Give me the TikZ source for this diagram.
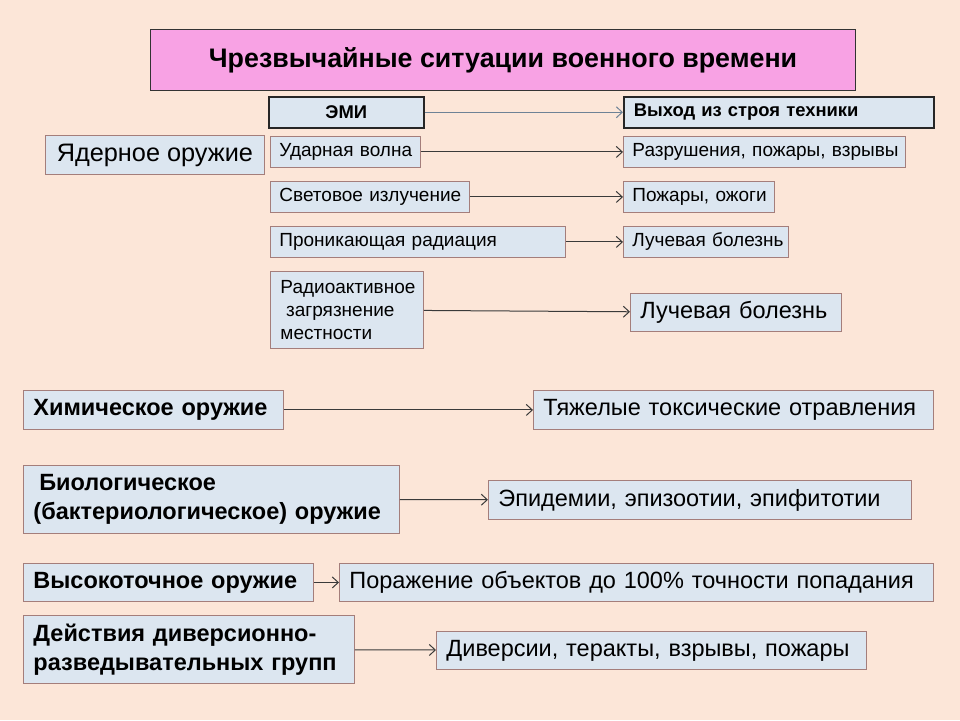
\documentclass[tikz,border=0pt]{standalone}
\usepackage{fontspec}
\setmainfont{Liberation Sans}
\newfontfamily\itemfamily[WordSpace=0.4]{Liberation Sans}
\usepackage{xcolor}
\usepackage{tikz}
\usetikzlibrary{arrows.meta,positioning}

\definecolor{bgpeach}{HTML}{FCE6D8}
\definecolor{boxfill}{HTML}{DCE6F0}
\definecolor{boxline}{HTML}{A47E7B}
\definecolor{headpink}{HTML}{F8A2E4}
\definecolor{arrowgray}{HTML}{3A3A3A}
\definecolor{emiblue}{HTML}{6E8296}

\newcommand{\fsTitle}{\fontsize{26.8}{31}\selectfont\bfseries}
\newcommand{\fsItem}{\itemfamily\fontsize{19}{23}\selectfont}
\newcommand{\fsKey}{\fontsize{18.4}{22}\selectfont\bfseries}
\newcommand{\fsLow}{\fontsize{23.5}{29}\selectfont}

\begin{document}
\begin{tikzpicture}[
        x=1pt, y=-1pt,
        box/.style={draw=boxline, fill=boxfill, line width=0.9pt, anchor=north west, inner xsep=9pt, inner ysep=0pt, align=left, font=\fsItem},
        keybox/.style={box, draw=black!85, line width=1.5pt, font=\fsKey},
        lowbox/.style={box, inner xsep=10pt, font=\fsLow},
        weapon/.style={lowbox, font=\fsLow\bfseries},
        arrow/.style={-{Straight Barb[length=6pt,width=11pt]}, draw=arrowgray, line width=1pt}
    ]
        \fill[bgpeach] (0,0) rectangle (960,720);
        \node[box, draw=black!80, fill=headpink, line width=1pt, align=center, minimum width=705pt, minimum height=61pt, font=\fsTitle] (title) at (150,29) {Чрезвычайные ситуации военного времени};

        % ядерное оружие
        \node[keybox, align=center, minimum width=155pt, minimum height=31pt] (emi) at (268,96) {ЭМИ};
        \node[keybox, inner xsep=10pt, text width=290pt, minimum height=31pt] (emiout) at (623,96) {Выход из строя техники};
        \node[box, align=center, minimum width=219pt, minimum height=39pt, font=\fontsize{25.3}{29}\selectfont] (nuclear) at (45,135) {Ядерное оружие};
        \node[box, text width=132pt, minimum height=31pt] (shock) at (270,136) {Ударная~волна};
        \node[box, text width=181pt, minimum height=31pt] (light) at (270,181) {Световое~излучение};
        \node[box, text width=277pt, minimum height=31pt] (penetr) at (270,226) {Проникающая~радиация};
        \node[box, inner xsep=10pt, text width=133pt, minimum height=77pt] (fallout) at (270,271) {Радиоактивное\\\hspace*{.3em}загрязнение\\местности};
        \node[box, text width=264pt, minimum height=31pt] (destr) at (623,136) {Разрушения,~пожары,~взрывы};
        \node[box, text width=133pt, minimum height=31pt] (burns) at (623,181) {Пожары,~ожоги};
        \node[box, text width=147pt, minimum height=31pt] (sick) at (623,226) {Лучевая~болезнь};
        \node[lowbox, text width=191pt, minimum height=38pt] (sickbig) at (630,293) {Лучевая болезнь};

        % прочие виды оружия
        \node[weapon, text width=240pt, minimum height=39pt] (chem) at (23,390) {Химическое оружие};
        \node[lowbox, text width=380pt, minimum height=39pt] (toxic) at (533,390) {Тяжелые токсические отравления};
        \node[weapon, text width=356pt, minimum height=68pt] (bio) at (23,465) {\hspace*{.25em}Биологическое\\(бактериологическое) оружие};
        \node[lowbox, text width=403pt, minimum height=39pt] (epid) at (488,480) {Эпидемии, эпизоотии, эпифитотии};
        \node[weapon, text width=270pt, minimum height=38pt] (precise) at (23,563) {Высокоточное оружие};
        \node[lowbox, text width=574pt, minimum height=38pt] (hit) at (339,563) {Поражение объектов до 100\% точности попадания};
        \node[weapon, text width=311pt, minimum height=68pt] (sabot) at (23,615) {Действия диверсионно-\\разведывательных групп};
        \node[lowbox, text width=410pt, minimum height=38pt] (terror) at (436,631) {Диверсии, теракты, взрывы, пожары};

        \draw[arrow, draw=emiblue] (emi) -- (emiout);
        \draw[arrow] (shock) -- (destr);
        \draw[arrow] (light) -- (burns);
        \draw[arrow] (penetr) -- (sick);
        \draw[arrow] (fallout) -- (sickbig);
        \draw[arrow] (chem) -- (toxic);
        \draw[arrow] (bio) -- (epid);
        \draw[arrow] (precise) -- (hit);
        \draw[arrow] (sabot) -- (terror);
    \end{tikzpicture}
\end{document}
